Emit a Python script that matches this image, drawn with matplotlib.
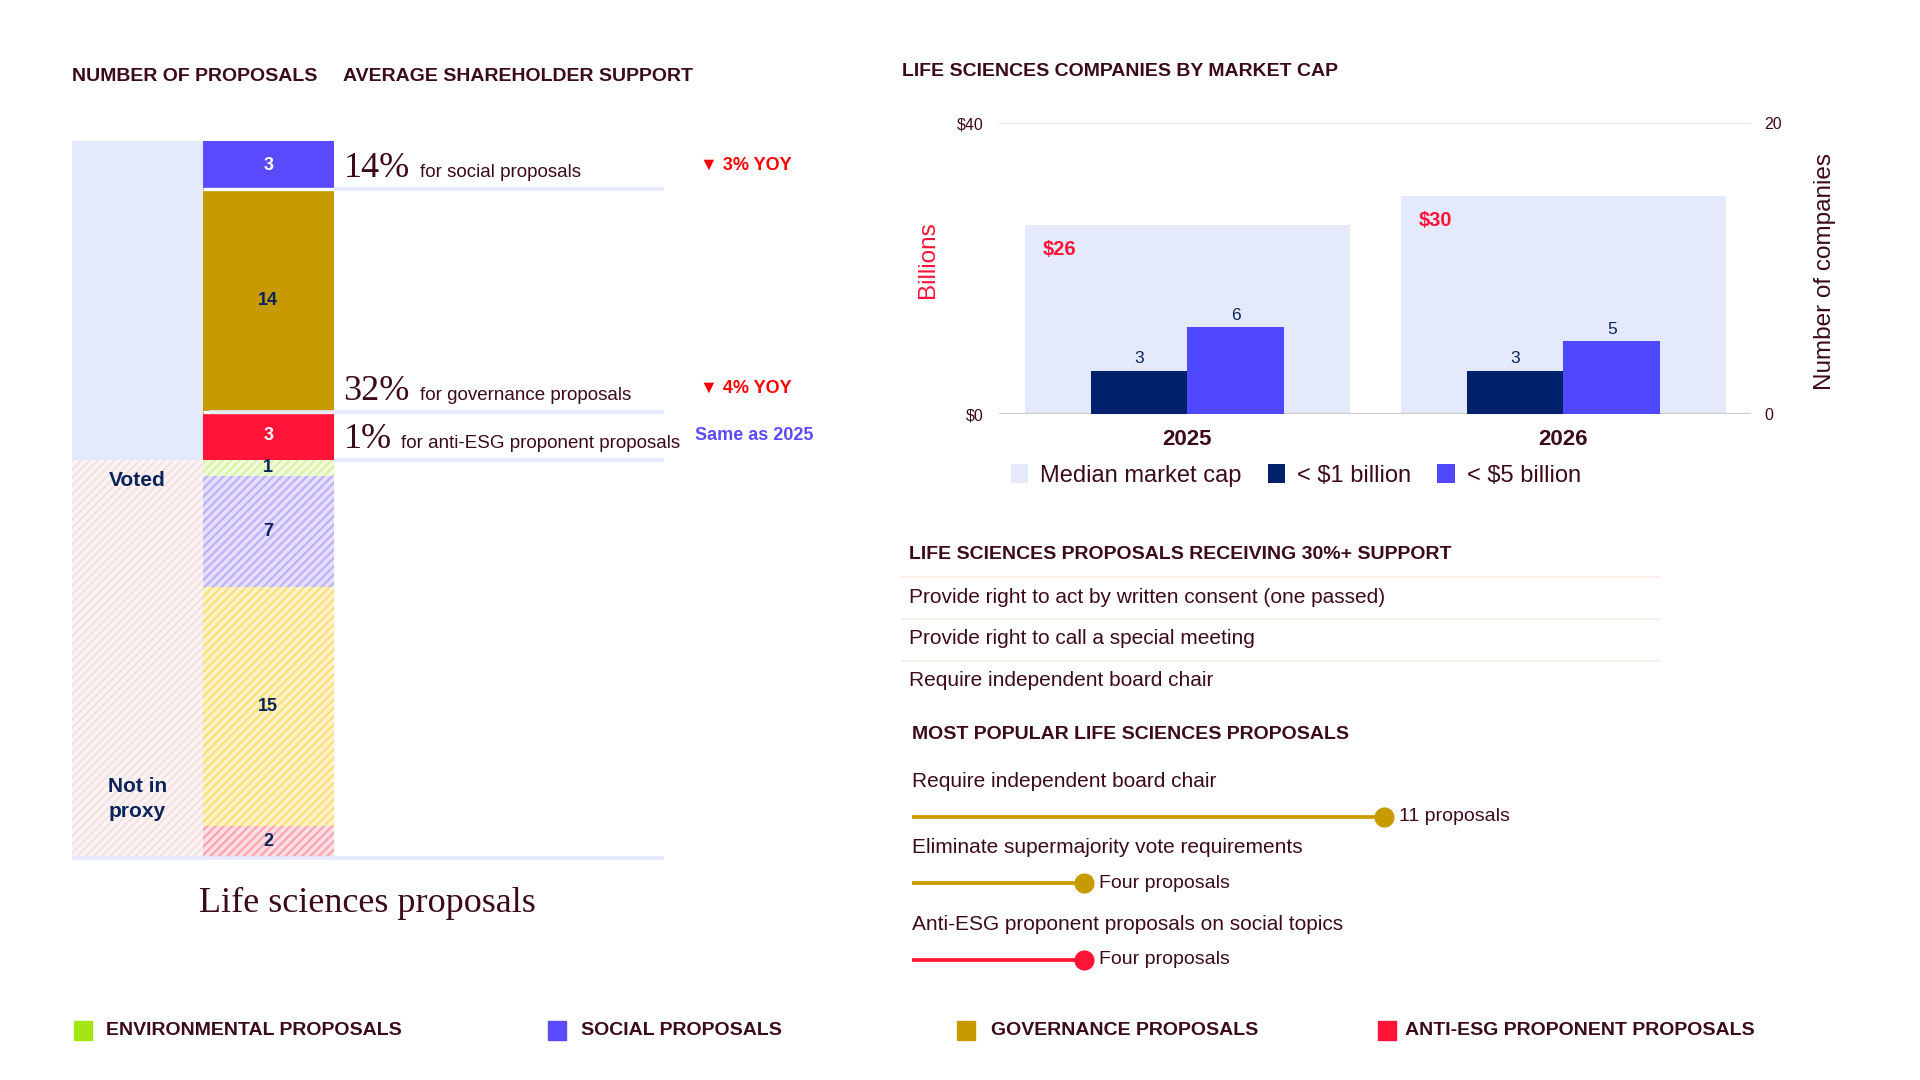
import matplotlib
matplotlib.use('Agg')
import matplotlib.pyplot as plt
from matplotlib.patches import Rectangle
from matplotlib.lines import Line2D
import numpy as np

# ---- data ----
voted_cats = ['Social', 'Governance', 'Anti-ESG']
voted_counts = [3, 14, 3]
proxy_cats = ['Environmental', 'Social', 'Governance', 'Anti-ESG']
proxy_counts = [1, 7, 15, 2]
support_pct = ['14%', '32%', '1%']
support_text = ['for social proposals', 'for governance proposals',
                'for anti-ESG proponent proposals']
yoy_text = ['\u25BC 3% YOY', '\u25BC 4% YOY', 'Same as 2025']

years = ['2025', '2026']
median_cap = [26, 30]
under_1b = [3, 3]
under_5b = [6, 5]

support30 = ['Provide right to act by written consent (one passed)',
             'Provide right to call a special meeting',
             'Require independent board chair']

popular = ['Require independent board chair',
           'Eliminate supermajority vote requirements',
           'Anti-ESG proponent proposals on social topics']
popular_n = [11, 4, 4]
popular_lbl = ['11 proposals', 'Four proposals', 'Four proposals']

legend_names = ['ENVIRONMENTAL PROPOSALS', 'SOCIAL PROPOSALS',
                'GOVERNANCE PROPOSALS', 'ANTI-ESG PROPONENT PROPOSALS']

# ---- styles ----
TXT = '#3B0B18'
NAVY_TXT = '#0A2459'
LAV = '#E5E9FC'
BLUE = '#5B4BFF'
BLUE2 = '#5048FF'
GOLD = '#C79B00'
RED = '#FF1438'
GREEN = '#A3E612'
NAVY = '#00216B'
col_voted = {'Social': BLUE, 'Governance': GOLD, 'Anti-ESG': RED}
lbl_voted = {'Social': 'white', 'Governance': NAVY_TXT, 'Anti-ESG': 'white'}
hatch_face = {'Environmental': '#F1FADF', 'Social': '#E6E0FF',
              'Governance': '#FFF3CC', 'Anti-ESG': '#FFE1E5'}
hatch_line = {'Environmental': '#D8F3A0', 'Social': '#BFB0FF',
              'Governance': '#FFDE7A', 'Anti-ESG': '#FFA3B0'}
legend_cols = [GREEN, BLUE, GOLD, RED]
row_pos = [0, 0.93, 2.0]      # vertical slots of the lollipop rows
pop_cols = [GOLD, GOLD, RED]

SANS = ['Liberation Sans', 'DejaVu Sans']
SERIF = ['Liberation Serif', 'DejaVu Serif']
plt.rcParams['font.family'] = SANS
plt.rcParams['hatch.linewidth'] = 1.6

fig = plt.figure(figsize=(19.2, 10.8), dpi=100)

# ---- left: stacked proposals ----
ax = fig.add_axes([0.0375, 0.2057, 0.3098, 0.6633])
n_voted = sum(voted_counts)
n_proxy = sum(proxy_counts)
ax.set_xlim(0, 4.545)
ax.set_ylim(n_voted + n_proxy, 0)
ax.axis('off')

ax.bar(0.5, n_voted, width=1, bottom=0, color=LAV, linewidth=0)
ax.bar(0.5, n_proxy, width=1, bottom=n_voted, color='#FCF4F4',
       edgecolor='#F5E3E3', hatch='////', linewidth=0)

bottoms = np.cumsum([0] + voted_counts[:-1])
for i, (cat, cnt, b) in enumerate(zip(voted_cats, voted_counts, bottoms)):
    ax.bar(1.5, cnt, width=1, bottom=b, color=col_voted[cat], linewidth=0)
    ax.text(1.5, b + cnt / 2, str(cnt), ha='center', va='center',
            fontsize=13, fontweight='bold', color=lbl_voted[cat])
    end = b + cnt
    if i < len(voted_cats) - 1:
        ax.hlines(end, 1.0, 2.0, color='white', lw=2.4, zorder=3)
    ax.hlines(end, 2.0 if i != 1 else 1.05, 4.52, color=LAV, lw=2.6,
              zorder=4, clip_on=False)
    base = end - 0.75
    big = ax.text(2.075, base, support_pct[i], fontsize=26, family=SERIF,
                  color=TXT, va='baseline', ha='left')
    ax.annotate(support_text[i], xy=(1, base), xycoords=(big, 'data'),
                xytext=(7, 0), textcoords='offset points', va='baseline',
                ha='left', fontsize=13.5, color=TXT)
    same = 'Same' in yoy_text[i]
    ax.text(4.76 if same else 4.80, base - 0.75, yoy_text[i], fontsize=13,
            fontweight='bold', color=BLUE if same else '#FF0000',
            va='center', ha='left', clip_on=False)

pb = np.cumsum([n_voted] + proxy_counts[:-1])
for cat, cnt, b in zip(proxy_cats, proxy_counts, pb):
    ax.bar(1.5, cnt, width=1, bottom=b, color=hatch_face[cat],
           edgecolor=hatch_line[cat], hatch='////', linewidth=0)
    ax.text(1.5, b + cnt / 2, str(cnt), ha='center', va='center',
            fontsize=13, fontweight='bold', color=NAVY_TXT)
ax.hlines(n_voted + n_proxy, 0.0, 4.52, color=LAV, lw=2.6, clip_on=False)

ax.text(0.5, n_voted + 1.3, 'Voted', ha='center', va='center', fontsize=15,
        fontweight='bold', color=NAVY_TXT)
ax.text(0.5, n_voted + n_proxy - 3.7, 'Not in\nproxy', ha='center',
        va='center', fontsize=15, fontweight='bold', color=NAVY_TXT,
        linespacing=1.35)

fig.text(0.0375, 0.9293, 'NUMBER OF PROPOSALS', fontsize=14,
         fontweight='bold', color=TXT, va='center')
fig.text(0.1787, 0.9293, 'AVERAGE SHAREHOLDER SUPPORT', fontsize=14,
         fontweight='bold', color=TXT, va='center')
fig.text(0.1915, 0.1635, 'Life sciences proposals', fontsize=26,
         family=SERIF, color=TXT, ha='center', va='center')

# ---- right top: market cap chart ----
axr = fig.add_axes([0.5205, 0.6165, 0.3917, 0.2695])
x = np.arange(len(years))
bw = 0.865
bg = axr.bar(x, median_cap, width=bw, color=LAV, linewidth=0, zorder=1)
axr.set_xlim(-0.5, 1.5)
axr.set_ylim(0, 40)
axr.set_yticks([0, 40], [r'\$0', r'\$40'])
axr.axhline(40, color='#DDDDDD', lw=1.2, zorder=0)
axr.axhline(0, color='#CCCCCC', lw=1.6, zorder=2)
for xi, v in zip(x, median_cap):
    axr.annotate(r'\$%d' % v, xy=(xi - bw / 2, v), xytext=(13, -18),
                 textcoords='offset points', ha='left', va='center',
                 fontsize=14.5, fontweight='bold', color=RED)
axr.set_xticks(x, years)
axr.tick_params(axis='x', length=0, pad=11, labelsize=16, labelcolor=TXT)
for t in axr.get_xticklabels():
    t.set_fontweight('bold')
axr.tick_params(axis='y', length=0, pad=11, labelsize=11.5, labelcolor=TXT)

axc = axr.twinx()
axc.set_ylim(0, 20)
axc.set_yticks([0, 20], ['0', '20'])
axc.tick_params(axis='y', length=0, pad=9, labelsize=11.5, labelcolor=TXT)
w = 0.257
b1 = axc.bar(x - w / 2, under_1b, w, color=NAVY, linewidth=0)
b2 = axc.bar(x + w / 2, under_5b, w, color=BLUE2, linewidth=0)
for bars, vals in ((b1, under_1b), (b2, under_5b)):
    for r, v in zip(bars, vals):
        axc.annotate(str(v), xy=(r.get_x() + r.get_width() / 2, v),
                     xytext=(0, 3), textcoords='offset points', ha='center',
                     va='bottom', fontsize=12.5, color=NAVY_TXT)
for a in (axr, axc):
    for s in a.spines.values():
        s.set_visible(False)

axr.legend(handles=[bg, b1, b2],
           labels=['Median market cap', r'< \$1 billion', r'< \$5 billion'],
           loc='center left', bbox_to_anchor=(0.015, -0.21), ncol=3,
           frameon=False, fontsize=17, handlelength=0.75, handleheight=0.9,
           handletextpad=0.5, columnspacing=1.1, borderaxespad=0,
           borderpad=0, labelcolor=TXT)

fig.text(0.4700, 0.9338, 'LIFE SCIENCES COMPANIES BY MARKET CAP',
         fontsize=14, fontweight='bold', color=TXT, va='center')
fig.text(0.4835, 0.7595, 'Billions', rotation=90, fontsize=17.5, color=RED,
         ha='center', va='center')
fig.text(0.9505, 0.749, 'Number of companies', rotation=90, fontsize=17.5,
         color=TXT, ha='center', va='center')

# ---- right middle: 30%+ support list ----
fig.text(0.4735, 0.4865, 'LIFE SCIENCES PROPOSALS RECEIVING 30%+ SUPPORT',
         fontsize=14, fontweight='bold', color=TXT, va='center')
sep_y = [0.4655, 0.4268, 0.388]
item_y = [0.4467, 0.4090, 0.3703]
for i, item in enumerate(support30):
    fig.add_artist(Line2D([0.4700, 0.8645], [sep_y[i], sep_y[i]],
                          color='#FDEEEE', lw=1.5))
    fig.text(0.4735, item_y[i], item, fontsize=15, color=TXT, va='center')

# ---- right bottom: most popular lollipops ----
fig.text(0.4752, 0.3202, 'MOST POPULAR LIFE SCIENCES PROPOSALS',
         fontsize=14, fontweight='bold', color=TXT, va='center')
axl = fig.add_axes([0.4752, 0.0785, 0.3795, 0.1983])
axl.set_xlim(0, 17)
axl.set_ylim(2.5, -0.5)
axl.axis('off')
for i, (name, n, lbl) in enumerate(zip(popular, popular_n, popular_lbl)):
    yp = row_pos[i]
    axl.hlines(yp, 0, n, color=pop_cols[i], lw=2.7)
    axl.scatter([n], [yp], s=210, color=pop_cols[i], zorder=3, linewidths=0)
    axl.annotate(lbl, xy=(n, yp), xytext=(11, 0), textcoords='offset points',
                 va='center', ha='left', fontsize=14, color=TXT)
    axl.annotate(name, xy=(0, yp), xytext=(0, 25.5),
                 textcoords='offset points', va='center', ha='left',
                 fontsize=15, color=TXT, annotation_clip=False)

# ---- bottom legend ----
sq_x = [0.0383, 0.2853, 0.4985, 0.7175]
tx_x = [0.0553, 0.3025, 0.5160, 0.7320]
for name, c, sx, tx in zip(legend_names, legend_cols, sq_x, tx_x):
    fig.add_artist(Rectangle((sx, 0.037), 0.0094, 0.0175, color=c,
                             transform=fig.transFigure))
    fig.text(tx, 0.0459, name, fontsize=14, fontweight='bold', color=TXT,
             va='center')

fig.savefig('out.png', dpi=100, facecolor='white')
